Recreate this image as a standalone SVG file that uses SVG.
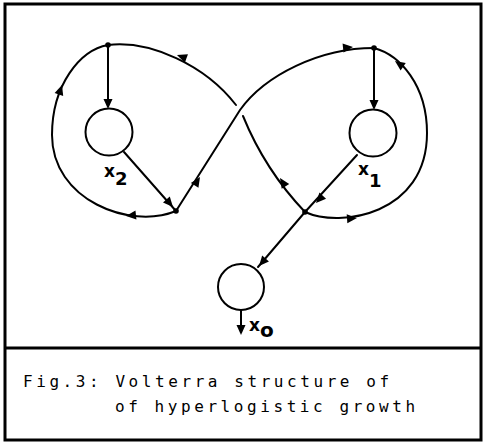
<svg xmlns="http://www.w3.org/2000/svg" width="484" height="443" viewBox="0 0 484 443">
<style>
.frame{fill:none;stroke:#000;stroke-width:3}
.ln{fill:none;stroke:#000;stroke-width:2;stroke-linecap:round}
.node{fill:#fff;stroke:#000;stroke-width:2}
.dot{fill:#000}
.lbl{font-family:"DejaVu Sans","Liberation Sans",sans-serif;font-weight:bold;font-size:17px;fill:#000}
.cap{font-family:"DejaVu Sans Mono","Liberation Mono",monospace;font-size:16px;letter-spacing:3.57px;fill:#000}
</style>
<defs>
<path id="ah" d="M0,0 L-10,-4.5 L-10,4.5 Z" fill="#000"/>
</defs>
<rect width="484" height="443" fill="#fff"/>
<rect class="frame" x="5" y="4" width="476" height="436"/>
<line class="frame" x1="5" y1="348" x2="481" y2="348"/>
<g id="connectors">
<path class="ln" d="M176,211 C130,230 52,200 52,135 C52,85 80,50 108,45"/>
<path class="ln" d="M108,45 C150,40 205,65 236,105"/>
<path class="ln" d="M243,116 Q265,170 305,212"/>
<path class="ln" d="M176,211 L240,110 C265,75 320,48 374,48"/>
<path class="ln" d="M305,212 C340,228 427,215 427,133 C427,85 400,55 374,48"/>
<line class="ln" x1="108" y1="45" x2="108" y2="106"/>
<line class="ln" x1="374" y1="48" x2="374" y2="107"/>
<line class="ln" x1="124" y1="152" x2="176" y2="211"/>
<line class="ln" x1="357" y1="155" x2="305" y2="212"/>
<line class="ln" x1="305" y1="212" x2="258" y2="267"/>
<line class="ln" x1="241" y1="310" x2="241" y2="332"/>
<use href="#ah" transform="translate(108,109) rotate(90)"/>
<use href="#ah" transform="translate(374,110) rotate(90)"/>
<use href="#ah" transform="translate(173,207) rotate(48.6)"/>
<use href="#ah" transform="translate(316,203) rotate(132.4)"/>
<use href="#ah" transform="translate(259,266) rotate(131)"/>
<use href="#ah" transform="translate(241,335) rotate(90)"/>
<use href="#ah" transform="translate(62,85) rotate(-72)"/>
<use href="#ah" transform="translate(126,216) rotate(174)"/>
<use href="#ah" transform="translate(177,55) rotate(200)"/>
<use href="#ah" transform="translate(200,177) rotate(-57.6)"/>
<use href="#ah" transform="translate(280,178) rotate(-123)"/>
<use href="#ah" transform="translate(353,47) rotate(-6)"/>
<use href="#ah" transform="translate(395,61) rotate(215)"/>
<use href="#ah" transform="translate(357,218) rotate(-4)"/>
</g>
<g id="junctions">
<circle class="dot" cx="108" cy="45" r="2.8"/>
<circle class="dot" cx="374" cy="48" r="2.8"/>
<circle class="dot" cx="176" cy="211" r="2.8"/>
<circle class="dot" cx="305" cy="212" r="2.8"/>
</g>
<g id="x2">
<circle class="node" cx="109" cy="132" r="23.5"/>
<text class="lbl" x="104" y="177">x<tspan font-size="18" dy="8">2</tspan></text>
</g>
<g id="x1">
<circle class="node" cx="373" cy="133" r="23.5"/>
<text class="lbl" x="358" y="175">x<tspan font-size="18" dy="12">1</tspan></text>
</g>
<g id="x0">
<circle class="node" cx="241" cy="287" r="23"/>
<text class="lbl" x="249" y="331">x<tspan font-size="20" dy="6">o</tspan></text>
</g>
<g id="caption">
<text class="cap" x="23" y="387">Fig.3: Volterra structure of</text>
<text class="cap" x="115" y="412">of hyperlogistic growth</text>
</g>
</svg>
